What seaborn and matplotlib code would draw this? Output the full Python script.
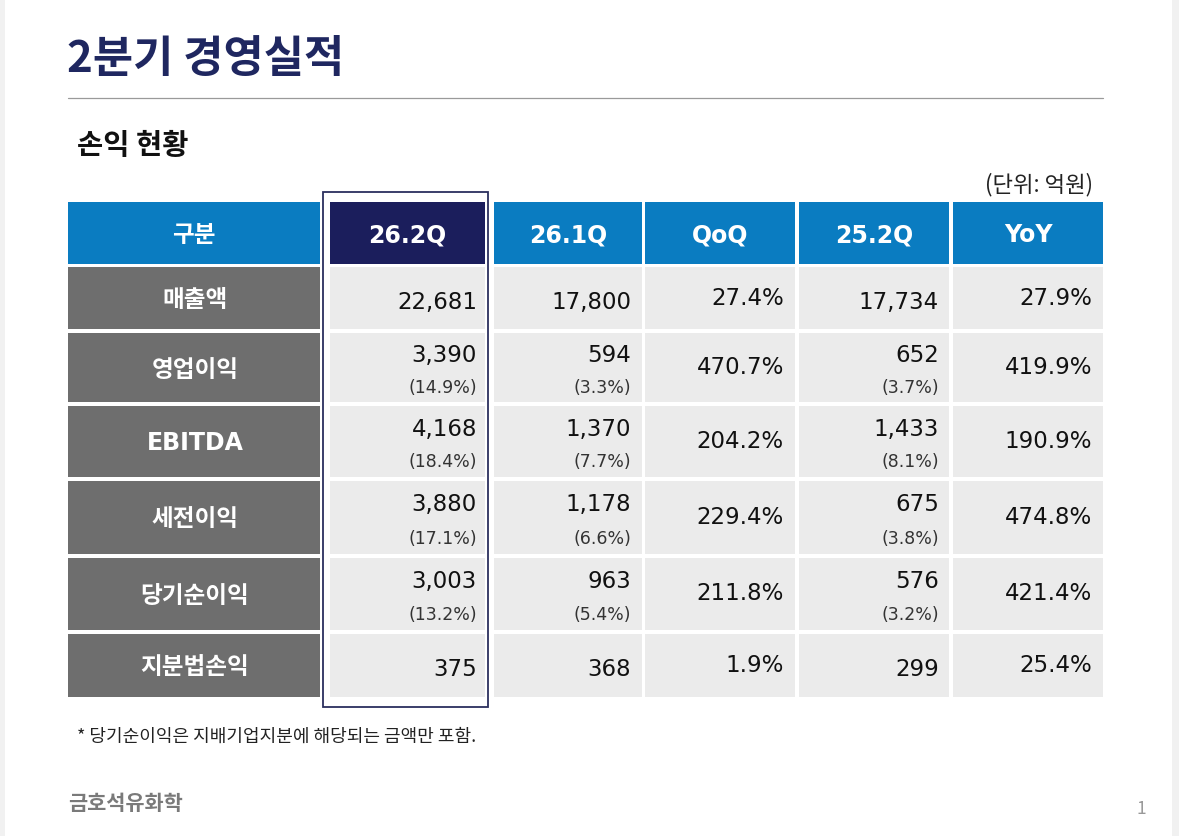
import matplotlib
matplotlib.use("Agg")
import matplotlib.pyplot as plt
import seaborn as sns
from matplotlib.patches import Rectangle

# ---- data (억원) ----
columns = ["구분", "26.2Q", "26.1Q", "QoQ", "25.2Q", "YoY"]
row_labels = ["매출액", "영업이익", "EBITDA", "세전이익", "당기순이익", "지분법손익"]

q26_2 = [22681, 3390, 4168, 3880, 3003, 375]
q26_2_margin = [None, 14.9, 18.4, 17.1, 13.2, None]
q26_1 = [17800, 594, 1370, 1178, 963, 368]
q26_1_margin = [None, 3.3, 7.7, 6.6, 5.4, None]
qoq = [27.4, 470.7, 204.2, 229.4, 211.8, 1.9]
q25_2 = [17734, 652, 1433, 675, 576, 299]
q25_2_margin = [None, 3.7, 8.1, 3.8, 3.2, None]
yoy = [27.9, 419.9, 190.9, 474.8, 421.4, 25.4]

# ---- layout (pixel units of the 1179x837 canvas) ----
W, H = 1179, 837
col_edges = [(68, 320), (330, 485), (494, 642), (645, 795), (799, 949), (953, 1103)]
row_edges = [(203, 265), (268, 330), (334, 403), (407, 478), (482, 555), (559, 631), (635, 698)]
right_pad = [0, 8, 11, 11, 10, 11]

BLUE = "#0a7cc1"
NAVY = "#1b1e5c"
GRAY = "#6e6e6e"
CELL = "#ebebeb"
TITLE = "#1f2760"

sns.set_theme(style="white")
plt.rcParams["font.family"] = ["DejaVu Sans", "Noto Sans CJK KR"]
KR = ["Noto Sans CJK KR", "DejaVu Sans"]
MIX = ["DejaVu Sans", "Noto Sans CJK KR"]

fig = plt.figure(figsize=(W / 100, H / 100), dpi=100)
ax = fig.add_axes([0, 0, 1, 1])
ax.set_xlim(0, W)
ax.set_ylim(H, 0)
ax.axis("off")

# page edges
ax.bar(0, H, width=5, bottom=0, align="edge", color="#f1f1f1", linewidth=0)
ax.bar(1172, H, width=7, bottom=0, align="edge", color="#f1f1f1", linewidth=0)

# title
ax.text(67, 59, "2분기 경영실적", family=KR, fontsize=31.5, fontweight="bold",
        color=TITLE, ha="left", va="center")
ax.plot([68, 1103], [98.5, 98.5], color="#9a9a9a", lw=0.9)
ax.text(77, 146, "손익 현황", family=KR, fontsize=20.5, fontweight="bold",
        color="#111111", ha="left", va="center")
ax.text(1093, 185, "(단위: 억원)", family=KR, fontsize=16, color="#222222",
        ha="right", va="center")

# header row
top, bot = row_edges[0]
for j, (x0, x1) in enumerate(col_edges):
    ax.bar(x0, bot - top, width=x1 - x0, bottom=top, align="edge",
           color=NAVY if j == 1 else BLUE, linewidth=0)
    ax.text((x0 + x1) / 2, (top + bot) / 2 + 1, columns[j],
            family=MIX, fontsize=17, fontweight="bold", color="white",
            ha="center", va="center")

series = [(q26_2, q26_2_margin), (q26_1, q26_1_margin), (qoq, None),
          (q25_2, q25_2_margin), (yoy, None)]

for i, label in enumerate(row_labels):
    top, bot = row_edges[i + 1]
    h = bot - top
    x0, x1 = col_edges[0]
    ax.bar(x0, h, width=x1 - x0, bottom=top, align="edge", color=GRAY, linewidth=0)
    ax.text((x0 + x1) / 2 + 1, top + h / 2 + 1, label,
            family=MIX, fontsize=17, fontweight="bold", color="white",
            ha="center", va="center")
    for j, (vals, margins) in enumerate(series, start=1):
        x0, x1 = col_edges[j]
        ax.bar(x0, h, width=x1 - x0, bottom=top, align="edge", color=CELL, linewidth=0)
        xr = x1 - right_pad[j]
        if margins is None:
            ax.text(xr, top + h / 2 - 1, f"{vals[i]:.1f}%", fontsize=16.5,
                    color="#111111", ha="right", va="center")
        elif margins[i] is None:
            ax.text(xr, top + h / 2 + 3, f"{vals[i]:,}", fontsize=16.5,
                    color="#111111", ha="right", va="center")
        else:
            ax.text(xr, top + h * 0.31, f"{vals[i]:,}", fontsize=16.5,
                    color="#111111", ha="right", va="center")
            ax.text(xr, top + h * 0.78, f"({margins[i]:.1f}%)", fontsize=12.5,
                    color="#333333", ha="right", va="center")

# highlight frame around current quarter
ax.add_patch(Rectangle((323, 193), 488 - 323, 708 - 193, fill=False,
                       edgecolor="#2b2f5e", linewidth=1.3))

# footnote and footer
ax.text(77, 737, "* 당기순이익은 지배기업지분에 해당되는 금액만 포함.", family=KR,
        fontsize=13, color="#222222", ha="left", va="center")
ax.text(68, 804, "금호석유화학", family=KR, fontsize=15, fontweight="bold",
        color="#7a7a7a", ha="left", va="center")
ax.text(1141, 809, "1", family=KR, fontsize=12.5, color="#999999",
        ha="center", va="center")

fig.savefig("out.png", dpi=100)
plt.close(fig)
